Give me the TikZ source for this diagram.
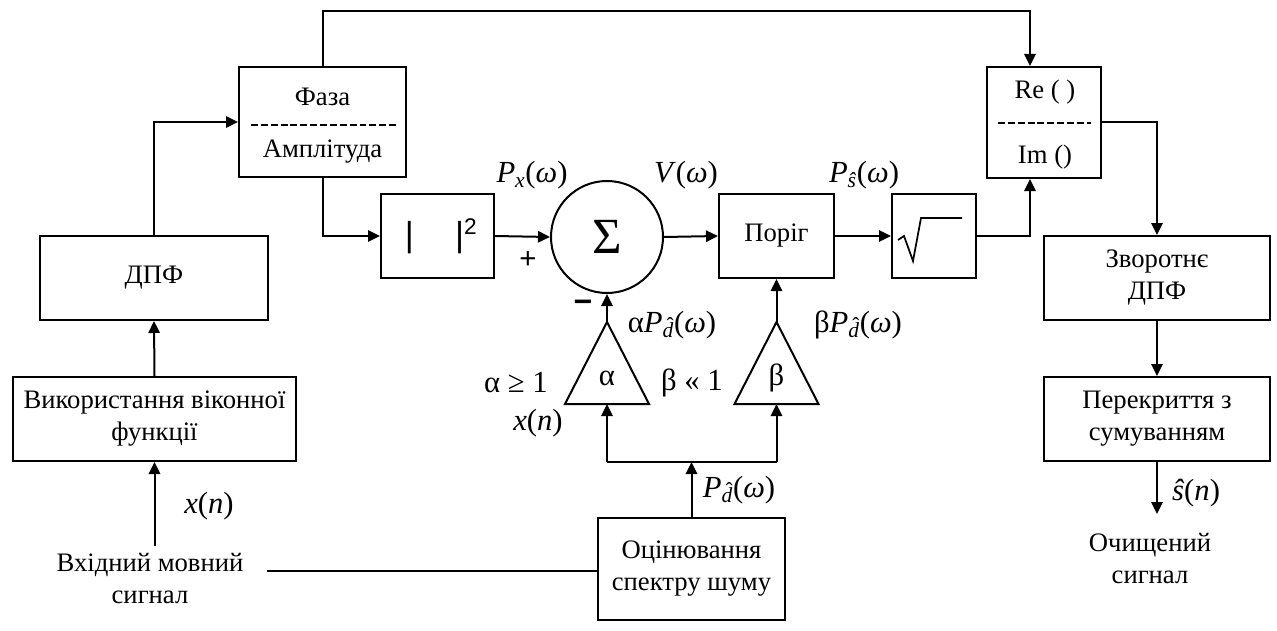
\documentclass[tikz,border=0pt]{standalone}
\usepackage{fontspec}
\setmainfont{Liberation Serif}
\newfontfamily\arialf{Liberation Sans}
\usetikzlibrary{arrows.meta,calc}
\newcommand{\pxl}[1]{#1*0.75pt}
\newcommand{\mlab}{\fontsize{23}{26}\selectfont}
\newcommand{\hatd}{\ooalign{\textit{d}\cr\hidewidth\kern0.2em\raisebox{0.22em}{\char"02C6}\hidewidth\cr}}
\newcommand{\Pd}{\textit{P}\textsubscript{\hatd}(\textit{ω})}
\begin{document}
\begin{tikzpicture}[x=0.75pt,y=-0.75pt,
  line width=1.5pt,
  arr/.style={-{Triangle[length=9pt,width=8.5pt]}},
  blk/.style={draw,line width=1.5pt,align=center,font=\fontsize{20}{24}\selectfont,inner sep=0},
  txt/.style={align=center,font=\fontsize{20}{24}\selectfont,inner sep=0},
  lab/.style={inner sep=0,font=\mlab},
  dsh/.style={line width=1.4pt,dash pattern=on 5.2pt off 2.2pt},
]
\useasboundingbox (0,0) rectangle (1277,631);

% blocks
\node[blk,minimum width=\pxl{228},minimum height=\pxl{84}] (dft) at (154,278) {ДПФ};
\node[blk,minimum width=\pxl{283},minimum height=\pxl{84}] (win) at (154.5,419) {Використання віконної\\функції};
\node[blk,minimum width=\pxl{167},minimum height=\pxl{110}] (ph) at (322.5,122) {};
\node[txt] (phA) at (322.5,97) {Фаза};
\node[txt] (phB) at (322.5,152) {Амплітуда};
\coordinate (phd1) at (251,125); \coordinate (phd2) at (398,125);
\draw[dsh] (phd1) -- (phd2);

\node[blk,minimum width=\pxl{114},minimum height=\pxl{111}] (ri) at (1044,122.5) {};
\node[txt] (riA) at (1045,92) {Re ( )};
\node[txt] (riB) at (1045,157) {Im ()};
\coordinate (rid1) at (998,123); \coordinate (rid2) at (1091,123);
\draw[dsh] (rid1) -- (rid2);

\node[blk,minimum width=\pxl{113},minimum height=\pxl{84}] (abs) at (437.5,236)
  {\arialf\fontsize{26}{26}\selectfont \hspace{5pt}|\hspace{31pt}|\raisebox{9pt}{\fontsize{17}{17}\selectfont 2}};
\node[draw,circle,minimum size=\pxl{112},inner sep=0,line width=1.5pt] (sum) at (607,237)
  {\fontsize{38}{38}\selectfont Σ};
\node[blk,minimum width=\pxl{115},minimum height=\pxl{84}] (thr) at (776.5,236) {Поріг};
\node[blk,minimum width=\pxl{84},minimum height=\pxl{84}] (sq) at (934,236) {};
\coordinate (r1) at (898,240); \coordinate (r2) at (904,236);
\coordinate (r3) at (913,261); \coordinate (r4) at (921,218); \coordinate (r5) at (962,218);
\draw[line width=1.3pt,line join=miter] (r1) -- (r2) -- (r3) -- (r4) -- (r5);
\node[blk,minimum width=\pxl{226},minimum height=\pxl{84}] (idft) at (1157,278) {Зворотнє\\ДПФ};
\node[blk,minimum width=\pxl{226},minimum height=\pxl{84}] (ola) at (1157,419) {Перекриття з\\сумуванням};
\node[blk,minimum width=\pxl{187},minimum height=\pxl{102}] (est) at (691.5,569) {Оцінювання\\спектру шуму};

\node[txt,inner sep=4pt] (inp) at (150,578) {Вхідний мовний\\сигнал};
\node[txt] (out) at (1150,558) {Очищений\\сигнал};

% triangles
\coordinate (aA) at (607,322); \coordinate (aB) at (607,404);
\coordinate (bA) at (776.5,322); \coordinate (bB) at (776.5,404);
\draw[line join=miter] ($(aB)+(-42,0)$) -- (aA) -- ($(aB)+(42,0)$) -- cycle;
\draw[line join=miter] ($(bB)+(-42,0)$) -- (bA) -- ($(bB)+(42,0)$) -- cycle;
\node[lab] (aL) at (607,378) {α};
\node[lab] (bL) at (776.5,378) {β};

% connectors
\draw[arr] (inp.north -| win.south) -- (win.south);
\coordinate (ls) at (267,571);
\draw (ls) -- (ls -| est.west);
\draw[arr] (win.north) -- (dft.south);
\draw[arr] (dft.north) |- (ph.west);
\draw[arr] (ph.north) -- ++(0,-55) -| ($(ri.north)+(-14,0)$);
\draw[arr] (ph.south) |- (abs.west);
\draw[arr] (abs.east) -- (sum.west);
\draw[arr] (sum.east) -- (thr.west);
\draw[arr] (thr.east) -- (sq.west);
\draw[arr] (sq.east) -| ($(ri.south)+(-14,0)$);
\draw[arr] (ri.east) -| (idft.north);
\draw[arr] (idft.south) -- (ola.north);
\coordinate (outTip) at (1157,514);
\draw[arr] (ola.south) -- (outTip);

\coordinate (jA) at (607,462); \coordinate (jB) at (776.5,462); \coordinate (jM) at (691.5,462);
\draw (jA) -- (jB);
\draw[arr] (jA) -- (aB);
\draw[arr] (jB) -- (bB);
\draw[arr] (est.north) -- (jM);
\draw[arr] (aA) -- (sum.south);
\draw[arr] (bA) -- (thr.south);

% labels
\node[lab] (lx) at (209,506) {\textit{x}(\textit{n})};
\node[lab] (lplus) at (528,260) {\arialf\fontsize{22}{22}\selectfont +};
\node[lab] (lminus) at (583,306) {\arialf\bfseries\fontsize{24}{24}\selectfont −};
\node[lab] (lPx) at (532,175) {\textit{P}\textsubscript{\textit{x}}(\textit{ω})};
\node[lab] (lV) at (686,175) {\textit{V}(\textit{ω})};
\node[lab] (lPs) at (864,175) {\textit{P}\textsubscript{\textit{ŝ}}(\textit{ω})};
\node[lab] (laP) at (672,325) {α\Pd};
\node[lab] (lbP) at (858,325) {β\Pd};
\node[lab] (lag) at (516,383) {α ≥ 1};
\node[lab] (lxn2) at (538,423) {\textit{x}(\textit{n})};
\node[lab] (lbg) at (692,383) {β « 1};
\node[lab] (lPd) at (739,490) {\Pd};
\node[lab] (ls) at (1196,493) {\textit{ŝ}(\textit{n})};
\end{tikzpicture}
\end{document}
